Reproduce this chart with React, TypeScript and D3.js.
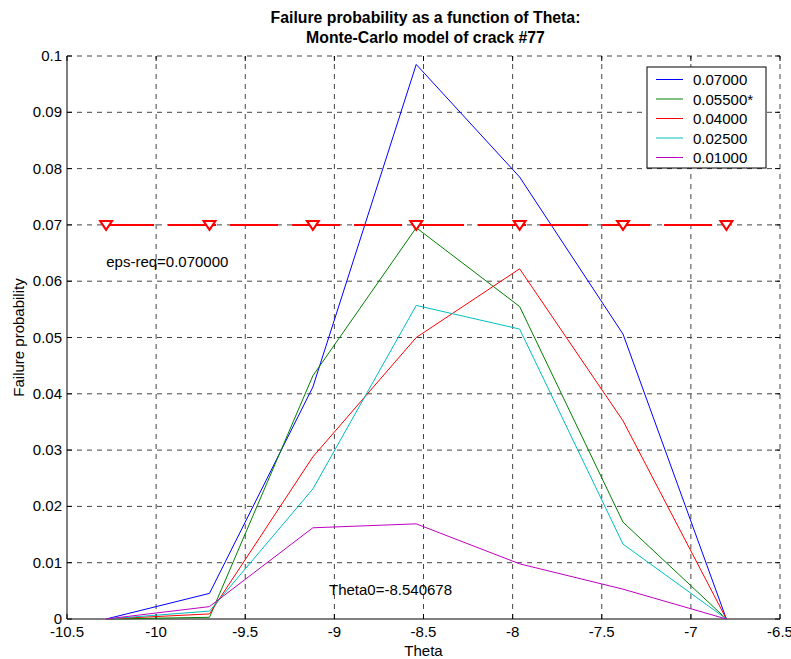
import React from "react";
import * as d3 from "d3";

const thetas = [-10.280678, -9.700678, -9.120678, -8.540678, -7.960678, -7.380678, -6.800678];
const seriesLabels = ["0.07000", "0.05500*", "0.04000", "0.02500", "0.01000"];
const seriesColors = ["#0000ff", "#008000", "#ff0000", "#00bfbf", "#bf00bf"];
const s070 = [0, 0.00455, 0.0412, 0.0985, 0.0785, 0.0506, 0];
const s055 = [0, 0.0003, 0.0432, 0.0695, 0.0555, 0.0172, 0];
const s040 = [0, 0.0009, 0.0288, 0.0500, 0.0622, 0.0352, 0];
const s025 = [0, 0.0014, 0.0231, 0.0557, 0.0515, 0.0133, 0];
const s010 = [0, 0.0022, 0.0162, 0.0169, 0.0098, 0.0053, 0];
const seriesValues = [s070, s055, s040, s025, s010];
const epsReq = 0.07;
const xTicks = [-10.5, -10, -9.5, -9, -8.5, -8, -7.5, -7, -6.5];
const yTicks = [0, 0.01, 0.02, 0.03, 0.04, 0.05, 0.06, 0.07, 0.08, 0.09, 0.1];

export default function App() {
  const W = 791, H = 659;
  const L = 67, R = 780, T = 56, B = 619;
  const x = d3.scaleLinear().domain([-10.5, -6.5]).range([L, R]);
  const y = d3.scaleLinear().domain([0, 0.1]).range([B, T]);
  const line = d3.line<number>().x((_, i) => x(thetas[i])).y((d) => y(d));
  const font = "'Liberation Sans', Arial, sans-serif";
  const fmtY = (v: number) => (v === 0 ? "0" : d3.format("")(+v.toFixed(2)));
  const grid = "#444";
  const dash = "5,5";
  const tri = (cx: number, cy: number) =>
    `M${cx - 6},${cy - 4}L${cx + 6},${cy - 4}L${cx},${cy + 5}Z`;
  const legX = 647, legY = 67, legW = 119, legH = 101;

  return (
    <svg width={W} height={H} style={{ position: "absolute", left: 0, top: 0, background: "#fff" }} fontFamily={font}>
      <rect x={0} y={0} width={W} height={H} fill="#fff" />
      {/* grid */}
      {xTicks.slice(1).map((t) => (
        <line key={"gx" + t} x1={x(t)} x2={x(t)} y1={B} y2={T} stroke={grid} strokeDasharray={dash} strokeWidth={1} />
      ))}
      {yTicks.slice(1).map((t) => (
        <line key={"gy" + t} x1={L} x2={R} y1={y(t)} y2={y(t)} stroke={grid} strokeDasharray={dash} strokeWidth={1} />
      ))}
      {/* axes */}
      <line x1={L} x2={L} y1={T} y2={B} stroke="#000" />
      <line x1={L} x2={R} y1={B} y2={B} stroke="#000" />
      {xTicks.map((t) => (
        <g key={"xt" + t}>
          <line x1={x(t)} x2={x(t)} y1={B} y2={B - 5} stroke="#000" />
          <line x1={x(t)} x2={x(t)} y1={T} y2={T + 5} stroke="#000" />
          <text x={x(t)} y={B + 18} textAnchor="middle" fontSize={15}>{t}</text>
        </g>
      ))}
      {yTicks.map((t) => (
        <g key={"yt" + t}>
          <line x1={L} x2={L + 5} y1={y(t)} y2={y(t)} stroke="#000" />
          <line x1={R} x2={R - 5} y1={y(t)} y2={y(t)} stroke="#000" />
          <text x={L - 5} y={y(t) + 5} textAnchor="end" fontSize={15}>{fmtY(t)}</text>
        </g>
      ))}
      {/* series */}
      {seriesValues.map((vals, k) => (
        <path key={"s" + k} d={line(vals) || ""} fill="none" stroke={seriesColors[k]} strokeWidth={1} />
      ))}
      {/* eps-req line */}
      <line x1={x(thetas[0])} x2={x(thetas[thetas.length - 1])} y1={y(epsReq)} y2={y(epsReq)}
        stroke="#ff0000" strokeWidth={2} strokeDasharray="48,14" />
      {thetas.map((t) => (
        <path key={"tr" + t} d={tri(x(t), y(epsReq))} fill="#fff" stroke="#ff0000" strokeWidth={2} />
      ))}
      <text x={x(-10.28)} y={y(0.0625)} fontSize={15}>eps-req=0.070000</text>
      <text x={x(-9.03)} y={y(0.0043)} fontSize={15}>Theta0=-8.540678</text>
      {/* legend */}
      <rect x={legX} y={legY} width={legW} height={legH} fill="#fff" stroke="#000" />
      {seriesLabels.map((lab, k) => (
        <g key={"lg" + k}>
          <line x1={legX + 9} x2={legX + 36} y1={legY + 12.5 + k * 19.5} y2={legY + 12.5 + k * 19.5} stroke={seriesColors[k]} />
          <text x={legX + 46} y={legY + 18 + k * 19.5} fontSize={15}>{lab}</text>
        </g>
      ))}
      {/* titles */}
      <text x={(L + R) / 2 + 2} y={23} textAnchor="middle" fontSize={15.8} fontWeight="bold">Failure probability as a function of Theta:</text>
      <text x={(L + R) / 2 + 2} y={43} textAnchor="middle" fontSize={15.8} fontWeight="bold">Monte-Carlo model of crack #77</text>
      <text x={(L + R) / 2} y={656} textAnchor="middle" fontSize={15}>Theta</text>
      <text transform={`translate(24,${(T + B) / 2}) rotate(-90)`} textAnchor="middle" fontSize={15}>Failure probability</text>
    </svg>
  );
}
